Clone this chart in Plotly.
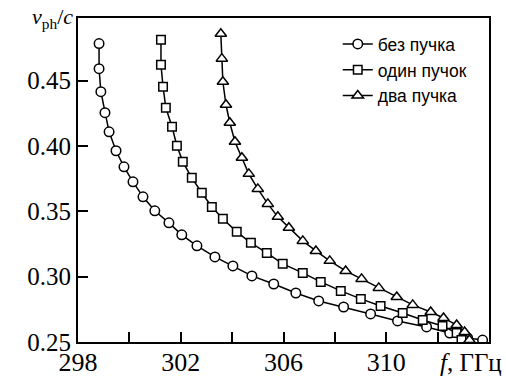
import plotly.graph_objects as go

# без пучка (circles)
f_none = [298.82, 298.82, 298.89, 299.05, 299.21, 299.48, 299.79, 300.14, 300.53, 300.99,
          301.54, 302.04, 302.63, 303.33, 304.03, 304.77, 305.62, 306.48, 307.37, 308.34,
          309.39, 310.44, 311.57, 312.47, 313.17, 313.75]
v_none = [0.4784, 0.4592, 0.4416, 0.4255, 0.4109, 0.3964, 0.3841, 0.3726, 0.3611, 0.3504,
          0.3412, 0.3320, 0.3236, 0.3151, 0.3082, 0.3006, 0.2944, 0.2875, 0.2814, 0.2768,
          0.2715, 0.2661, 0.2615, 0.2569, 0.2531, 0.2515]

# один пучок (squares)
f_one = [301.23, 301.23, 301.31, 301.42, 301.66, 301.85, 302.08, 302.43, 302.82, 303.21,
         303.64, 304.18, 304.73, 305.35, 305.97, 306.75, 307.45, 308.23, 309.01, 309.78,
         310.64, 311.42, 312.19, 312.74, 312.93]
v_one = [0.4814, 0.4623, 0.4454, 0.4293, 0.4148, 0.4002, 0.3879, 0.3757, 0.3642, 0.3534,
         0.3443, 0.3343, 0.3259, 0.3182, 0.3098, 0.3029, 0.2960, 0.2891, 0.2830, 0.2776,
         0.2722, 0.2669, 0.2623, 0.2569, 0.2515]

# два пучка (triangles)
f_two = [303.56, 303.60, 303.64, 303.76, 303.91, 304.11, 304.38, 304.65, 305.00, 305.39,
         305.78, 306.21, 306.75, 307.26, 307.80, 308.42, 309.04, 309.71, 310.41, 311.03,
         311.73, 312.23, 312.74, 313.05, 313.24]
v_two = [0.4860, 0.4669, 0.4492, 0.4316, 0.4178, 0.4033, 0.3910, 0.3787, 0.3672, 0.3557,
         0.3458, 0.3374, 0.3274, 0.3197, 0.3121, 0.3044, 0.2983, 0.2914, 0.2845, 0.2784,
         0.2730, 0.2684, 0.2630, 0.2577, 0.2515]

series_names = ["без пучка", "один пучок", "два пучка"]

x_tickvals = [298, 302, 306, 310]
x_ticktext = ["298", "302", "306", "310"]
x_minor_tickvals = [300, 304, 308, 312]
y_tickvals = [0.25, 0.30, 0.35, 0.40, 0.45]
y_ticktext = ["0.25", "0.30", "0.35", "0.40", "0.45"]

fig = go.Figure()
specs = [(f_none, v_none, "circle", 9.5), (f_one, v_one, "square", 8.5), (f_two, v_two, "triangle-up", 10)]
for (xs, ys, sym, sz), name in zip(specs, series_names):
    fig.add_trace(go.Scatter(
        x=xs, y=ys, name=name, mode="lines+markers",
        line=dict(color="black", width=1.5),
        marker=dict(symbol=sym, size=sz, color="white", line=dict(color="black", width=1.5)),
    ))

serif = "Liberation Serif"
fig.update_layout(
    width=506, height=378,
    margin=dict(l=78, r=17, t=18, b=36),
    paper_bgcolor="white", plot_bgcolor="white",
    showlegend=True,
    legend=dict(x=0.632, y=0.975, xanchor="left", yanchor="top",
                font=dict(family="Liberation Sans", size=17.5, color="black"),
                bgcolor="rgba(0,0,0,0)", tracegroupgap=0, itemwidth=30),
    xaxis=dict(range=[298, 314], tickmode="array", tickvals=x_tickvals, ticktext=x_ticktext,
               ticks="inside", ticklen=10, tickwidth=2, tickcolor="black",
               minor=dict(tickmode="array", tickvals=x_minor_tickvals, ticks="inside",
                          ticklen=10, tickwidth=2, tickcolor="black", showgrid=False),
               showline=True, linecolor="black", linewidth=2, mirror=True,
               showgrid=False, zeroline=False, ticklabelstandoff=-4, automargin=False,
               tickfont=dict(family=serif, size=26, color="black")),
    yaxis=dict(range=[0.25, 0.498], tickvals=y_tickvals, ticktext=y_ticktext,
               ticks="inside", ticklen=10, tickwidth=2, tickcolor="black",
               showline=True, linecolor="black", linewidth=2, mirror=True,
               showgrid=False, zeroline=False, automargin=False,
               tickfont=dict(family=serif, size=25, color="black")),
)
fig.add_annotation(xref="paper", yref="paper", x=-0.061, y=1.0, xanchor="center", yanchor="middle",
                   text="<i>v</i><sub>ph</sub>/<i>c</i>", showarrow=False,
                   font=dict(family=serif, size=22, color="black"))
fig.add_annotation(xref="paper", yref="paper", x=1.036, y=-0.062, xanchor="right", yanchor="middle",
                   text="<i>f</i>, ГГц", showarrow=False,
                   font=dict(family=serif, size=25, color="black"))
fig.write_html("out.html")
